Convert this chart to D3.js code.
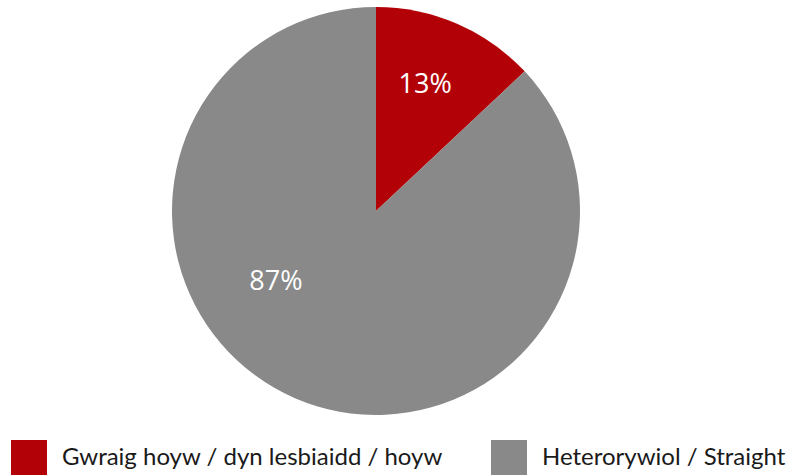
<!DOCTYPE html>
<html>
<head>
<meta charset="utf-8">
<script src="https://cdn.jsdelivr.net/npm/d3@7"></script>
<style>
  body { margin: 0; background: #fff; }
  svg { display: block; }
</style>
</head>
<body>
<div id="chart"></div>
<script>
const categories = ['Gwraig hoyw / dyn lesbiaidd / hoyw', 'Heterorywiol / Straight'];
const values = [13, 87];
const labels = ['13%', '87%'];
const colors = ['#b30207', '#898989'];

const width = 790, height = 475;
const cx = 376, cy = 211, radius = 204;

const svg = d3.select('#chart')
  .append('svg')
  .attr('width', width)
  .attr('height', height);

const pie = d3.pie().sort(null).value(d => d);
const arcs = pie(values);

const arc = d3.arc().innerRadius(0).outerRadius(radius);

const g = svg.append('g')
  .attr('transform', `translate(${cx},${cy})`);

g.selectAll('path')
  .data(arcs)
  .enter()
  .append('path')
  .attr('d', arc)
  .attr('fill', (d, i) => colors[i]);

// label placement: radius fraction and angle shift per slice (Excel "best fit")
const labelR = [0.67, 0.6];
const labelShift = [-0.04, 0.55];

g.selectAll('text')
  .data(arcs)
  .enter()
  .append('text')
  .attr('x', (d, i) => {
    const a = (d.startAngle + d.endAngle) / 2 + labelShift[i];
    return Math.sin(a) * radius * labelR[i];
  })
  .attr('y', (d, i) => {
    const a = (d.startAngle + d.endAngle) / 2 + labelShift[i];
    return -Math.cos(a) * radius * labelR[i] + 9;
  })
  .attr('text-anchor', 'middle')
  .attr('fill', '#fff')
  .style('font-family', '"Open Sans", sans-serif')
  .style('font-size', '27px')
  .text((d, i) => labels[i]);

const legendX = [11, 491];
const legend = svg.append('g');

const items = legend.selectAll('g')
  .data(categories)
  .enter()
  .append('g')
  .attr('transform', (d, i) => `translate(${legendX[i]},440)`);

items.append('rect')
  .attr('width', 36)
  .attr('height', 35)
  .attr('fill', (d, i) => colors[i]);

items.append('text')
  .attr('x', 51)
  .attr('y', 25)
  .attr('fill', '#1a1a1a')
  .style('font-family', 'Lato, sans-serif')
  .style('font-size', '24px')
  .text(d => d);
</script>
</body>
</html>
